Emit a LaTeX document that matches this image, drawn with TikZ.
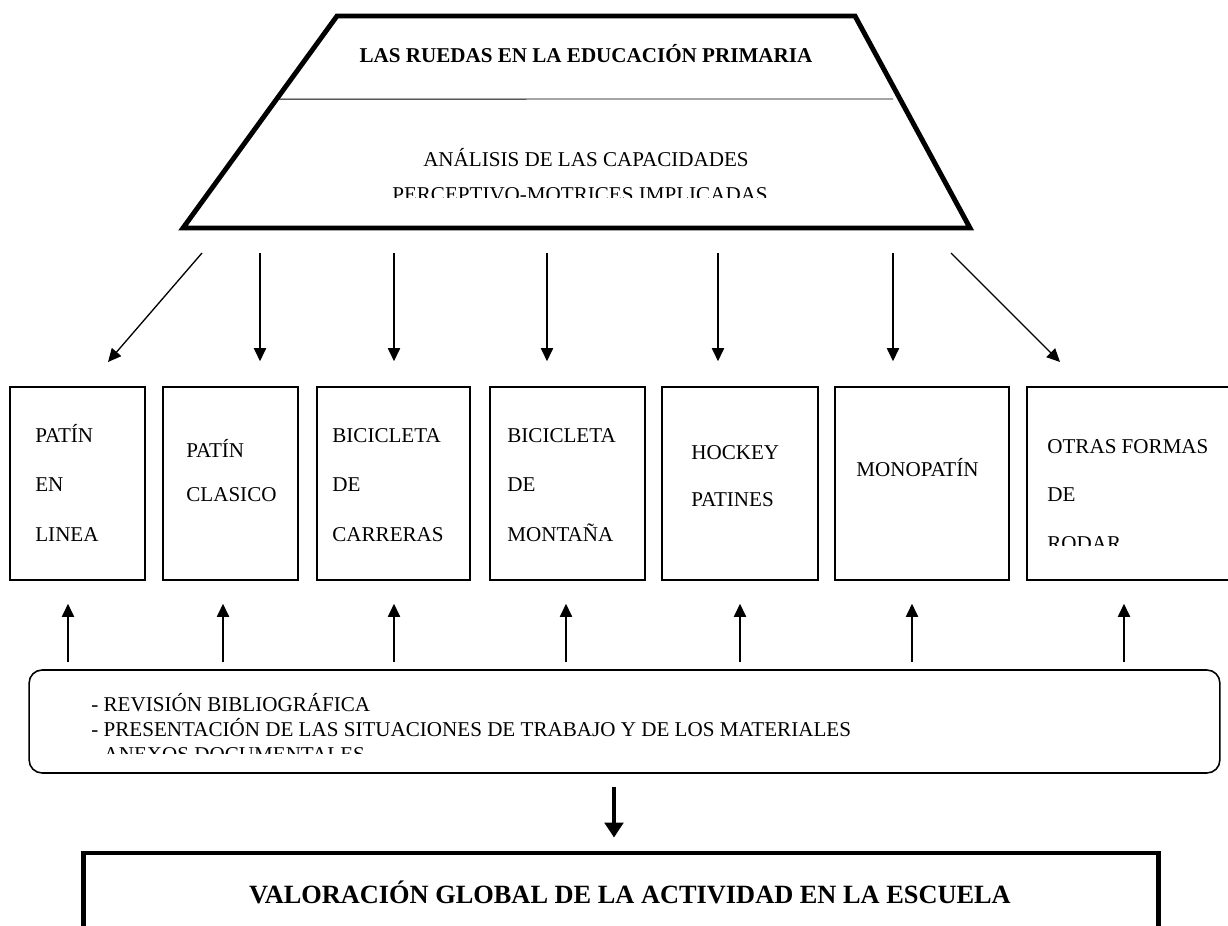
\documentclass[tikz,border=0pt]{standalone}
\usepackage{fontspec}
\setmainfont{Liberation Serif}
\usetikzlibrary{arrows.meta,calc}

\begin{document}
\begin{tikzpicture}[x=0.02cm,y=-0.02cm,
  frame/.style={draw,line width=0.9pt,inner sep=0pt,minimum height=3.86cm},
  lbl/.style={anchor=base west,inner sep=0pt,font=\fontsize{12}{14}\selectfont},
  mid/.style={anchor=base,inner sep=0pt,font=\fontsize{12}{14}\selectfont},
  arr/.style={line width=0.75pt,-{Triangle[length=7.5pt,width=7pt]}},
  heavy/.style={line width=2.8pt}]
\useasboundingbox (0,0) rectangle (1228,926);
\clip (0,0) rectangle (1228,926);

% top trapezoid
\coordinate (tl) at (337,16);
\coordinate (tr) at (855,16);
\coordinate (br) at (970,228);
\coordinate (bl) at (183,228);
\draw[heavy,line join=miter] (tl) -- (tr) -- (br) -- (bl) -- cycle;
\draw[line width=0.5pt] ($(tl)!0.392!(bl)$) -- (893,99);
\node[mid,font=\fontsize{12}{14}\selectfont\bfseries] (titulo) at (586,63) {LAS RUEDAS EN LA EDUCACIÓN PRIMARIA};
\node[mid] (analisis) at (586,167) {ANÁLISIS DE LAS CAPACIDADES};
\begin{scope}
\clip (183,100) rectangle (970,198);
\node[mid] (perceptivo) at (580,201) {PERCEPTIVO-MOTRICES IMPLICADAS};
\end{scope}

% boxes
\node[frame,minimum width=2.7cm] (b1) at (77.5,483.5) {};
\node[frame,minimum width=2.7cm] (b2) at (230.5,483.5) {};
\node[frame,minimum width=3.06cm] (b3) at (393.5,483.5) {};
\node[frame,minimum width=3.1cm] (b4) at (567.5,483.5) {};
\node[frame,minimum width=3.12cm] (b5) at (740,483.5) {};
\node[frame,minimum width=3.48cm] (b6) at (922,483.5) {};
\node[frame,minimum width=4.26cm] (b7) at (1133.5,483.5) {};

\node[lbl] (b1a) at (35,442) {PATÍN};
\node[lbl] (b1b) at (35,491) {EN};
\node[lbl] (b1c) at (35,541) {LINEA};
\node[lbl] (b2a) at (186,457) {PATÍN};
\node[lbl] (b2b) at (186,501) {CLASICO};
\node[lbl] (b3a) at (332,442) {BICICLETA};
\node[lbl] (b3b) at (332,491) {DE};
\node[lbl] (b3c) at (332,541) {CARRERAS};
\node[lbl] (b4a) at (507,442) {BICICLETA};
\node[lbl] (b4b) at (507,491) {DE};
\node[lbl] (b4c) at (507,541) {MONTAÑA};
\node[lbl] (b5a) at (691,459) {HOCKEY};
\node[lbl] (b5b) at (691,506) {PATINES};
\node[lbl] (b6a) at (856,476) {MONOPATÍN};
\node[lbl] (b7a) at (1047,453) {OTRAS FORMAS};
\node[lbl] (b7b) at (1047,501) {DE};
\begin{scope}
\clip (1027,387) rectangle (1228,545);
\node[lbl] (b7c) at (1047,550) {RODAR};
\end{scope}

% arrows from the trapezoid
\coordinate (d1) at (202,253); \coordinate (e1) at (108,362);
\coordinate (d2) at (260,253);
\coordinate (d3) at (394,253);
\coordinate (d4) at (547,253);
\coordinate (d5) at (718,253);
\coordinate (d6) at (893,253);
\coordinate (d7) at (951,253); \coordinate (e7) at (1060,362);
\draw[arr] (d1) -- (e1);
\draw[arr,shorten >=0.5cm] (d2) -- (d2 |- b2.north);
\draw[arr,shorten >=0.5cm] (d3) -- (d3 |- b3.north);
\draw[arr,shorten >=0.5cm] (d4) -- (d4 |- b4.north);
\draw[arr,shorten >=0.5cm] (d5) -- (d5 |- b5.north);
\draw[arr,shorten >=0.5cm] (d6) -- (d6 |- b6.north);
\draw[arr] (d7) -- (e7);

% bottom rounded box
\node[draw,rounded corners=0.26cm,line width=0.9pt,inner sep=0pt,
  minimum width=23.82cm,minimum height=2.06cm] (revision) at (624.5,721.5) {};
\node[lbl] (rev1) at (91,711) {- REVISIÓN BIBLIOGRÁFICA};
\node[lbl] (rev2) at (91,736) {- PRESENTACIÓN DE LAS SITUACIONES DE TRABAJO Y DE LOS MATERIALES};
\begin{scope}
\clip (29,670) rectangle (1220,753);
\node[lbl] (rev3) at (91,761) {- ANEXOS DOCUMENTALES};
\end{scope}

% arrows up to the boxes
\coordinate (u1) at (68,670);
\coordinate (u2) at (223,670);
\coordinate (u3) at (394,670);
\coordinate (u4) at (566,670);
\coordinate (u5) at (740,670);
\coordinate (u6) at (912,670);
\coordinate (u7) at (1124,670);
\draw[arr,shorten <=0.16cm,shorten >=0.46cm] (u1) -- (u1 |- b1.south);
\draw[arr,shorten <=0.16cm,shorten >=0.46cm] (u2) -- (u2 |- b2.south);
\draw[arr,shorten <=0.16cm,shorten >=0.46cm] (u3) -- (u3 |- b3.south);
\draw[arr,shorten <=0.16cm,shorten >=0.46cm] (u4) -- (u4 |- b4.south);
\draw[arr,shorten <=0.16cm,shorten >=0.46cm] (u5) -- (u5 |- b5.south);
\draw[arr,shorten <=0.16cm,shorten >=0.46cm] (u6) -- (u6 |- b6.south);
\draw[arr,shorten <=0.16cm,shorten >=0.46cm] (u7) -- (u7 |- b7.south);

% final box
\node[draw,heavy,inner sep=0pt,minimum width=21.52cm,minimum height=2.94cm] (valoracion) at (621,926.5) {};
\node[mid,font=\fontsize{15}{17}\selectfont\bfseries] (valtxt) at (630,903) {VALORACIÓN GLOBAL DE LA ACTIVIDAD EN LA ESCUELA};
\coordinate (f1) at (614,773);
\draw[line width=2.8pt,-{Triangle[length=8.5pt,width=10.5pt]},shorten <=0.28cm,shorten >=0.26cm] (f1) -- (f1 |- valoracion.north);
\end{tikzpicture}
\end{document}
